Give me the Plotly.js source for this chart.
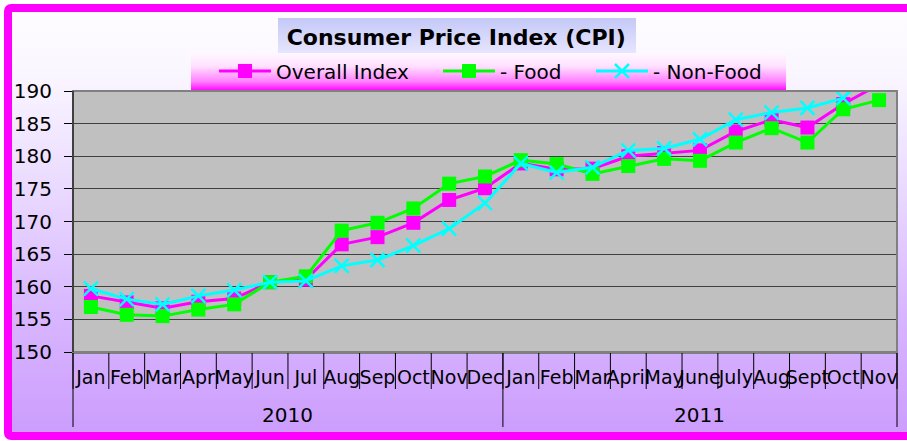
<!DOCTYPE html>
<html>
<head>
<meta charset="utf-8">
<script src="https://cdn.plot.ly/plotly-3.0.1.min.js"></script>
<style>
  html, body { margin:0; padding:0; width:907px; height:441px; overflow:hidden; background:#ffffff; }
  #frame { position:absolute; left:4px; top:4px; width:930px; height:420px; border:8px solid #ff00ff; border-radius:7px;
           background: linear-gradient(to bottom, #fefcff 0%, #faf6ff 15%, #ebdcff 40%, #d9b8ff 70%, #cc9dfd 100%); }
  #titlebox { position:absolute; left:278px; top:18px; width:358px; height:35px;
              background: linear-gradient(to bottom, #c4c8f6 0%, #dcdcfc 70%, #e6e6fe 100%); }
  #legendbox { position:absolute; left:191px; top:53px; width:595px; height:38px;
               background: linear-gradient(to bottom, #fff8ff 0%, #ffe0ff 35%, #ff80ff 75%, #ff00ff 100%); }
  #chart { position:absolute; left:0; top:0; width:907px; height:441px; }
</style>
</head>
<body>
<div id="frame"></div>
<div id="titlebox"></div>
<div id="legendbox"></div>
<div id="chart"></div>
<script>
// ---- data ----
const months2010 = ["Jan","Feb","Mar","Apr","May","Jun","Jul","Aug","Sep","Oct","Nov","Dec"];
const months2011 = ["Jan","Feb","Mar","April","May","June","July","Aug","Sept","Oct","Nov"];
const yearLabels = ["2010","2011"];
const overallIndex = [158.6,157.6,156.7,157.7,158.2,160.7,161.1,166.5,167.6,169.8,173.3,175.1,
                      178.9,178.0,178.1,180.0,180.5,180.9,183.8,185.6,184.4,188.0,191.0];
const foodIndex    = [156.9,155.7,155.5,156.5,157.3,160.7,161.6,168.6,169.8,172.0,175.8,176.9,
                      179.4,178.8,177.3,178.5,179.6,179.3,182.1,184.3,182.1,187.2,188.6];
const nonFoodIndex = [159.7,158.1,157.3,158.6,159.5,160.7,160.9,163.2,164.1,166.3,168.9,172.8,
                      178.9,177.5,178.3,180.9,181.2,182.6,185.6,186.7,187.4,188.9,194.5];

// unique category keys, displayed as month names
const xKeys = months2010.map(m => m + " " + yearLabels[0]).concat(months2011.map(m => m + " " + yearLabels[1]));
const xText = months2010.concat(months2011);
const N = xKeys.length;

const FONT = "DejaVu Sans, Verdana, sans-serif";
const plotH = 441 - 91 - 89;

const traces = [
  { name: "Overall Index", x: xKeys, y: overallIndex, type: "scatter", mode: "lines+markers", legend: "legend",
    line: { color: "#ff00ff", width: 3 },
    marker: { symbol: "square", size: 14, color: "#ff00ff" } },
  { name: "- Food", x: xKeys, y: foodIndex, type: "scatter", mode: "lines+markers", legend: "legend2",
    line: { color: "#00ff00", width: 3 },
    marker: { symbol: "square", size: 14, color: "#00ff00" } },
  { name: "- Non-Food", x: xKeys, y: nonFoodIndex, type: "scatter", mode: "lines+markers", legend: "legend3",
    line: { color: "#00ffff", width: 3 },
    marker: { symbol: "x-thin", size: 14, color: "#00ffff", line: { color: "#00ffff", width: 2.5 } } }
];

function legendAt(px) {
  return { orientation: "h", xref: "container", yref: "container", x: px / 907, xanchor: "left",
           y: 1 - 71 / 441, yanchor: "middle", bgcolor: "rgba(0,0,0,0)", itemwidth: 52,
           font: { family: FONT, size: 20, color: "#000" } };
}

const shapes = [];
// month separators
for (let k = 0; k <= N; k++) {
  shapes.push({ type: "line", xref: "paper", yref: "paper", x0: k / N, x1: k / N, y0: 0, y1: -37 / plotH,
                line: { color: "#000", width: 1 } });
}
// year dividers
[0, months2010.length, N].forEach(k => {
  shapes.push({ type: "line", xref: "paper", yref: "paper", x0: k / N, x1: k / N, y0: 0, y1: -75 / plotH,
                line: { color: "#000", width: 1 } });
});
// plot border
shapes.push({ type: "rect", xref: "paper", yref: "paper", x0: 0, x1: 1, y0: 0, y1: 1,
              line: { color: "#808080", width: 2 }, fillcolor: "rgba(0,0,0,0)", layer: "above" });
// left axis line (black)
shapes.push({ type: "line", xref: "paper", yref: "paper", x0: 0, x1: 0, y0: 0, y1: 1,
              line: { color: "#000", width: 1 }, layer: "above" });

const annotations = [
  { text: yearLabels[0], xref: "x", yref: "paper", x: (months2010.length - 1) / 2, y: -63 / plotH,
    showarrow: false, yanchor: "middle", font: { family: FONT, size: 20, color: "#000" } },
  { text: yearLabels[1], xref: "x", yref: "paper", x: months2010.length + (months2011.length - 1) / 2, y: -63 / plotH,
    showarrow: false, yanchor: "middle", font: { family: FONT, size: 20, color: "#000" } }
];

const layout = {
  width: 907, height: 441,
  margin: { l: 73, r: 10, t: 91, b: 89 },
  paper_bgcolor: "rgba(0,0,0,0)",
  plot_bgcolor: "#c0c0c0",
  font: { family: FONT, size: 19, color: "#000" },
  title: { text: "<b>Consumer Price Index (CPI)</b>", font: { family: FONT, size: 22, color: "#000" },
           x: 0.503, xanchor: "center", y: 1 - 37/441, yanchor: "middle", xref: "container", yref: "container" },
  showlegend: true,
  legend: legendAt(214),
  legend2: legendAt(438),
  legend3: legendAt(591),
  xaxis: {
    type: "category", categoryorder: "array", categoryarray: xKeys,
    range: [-0.5, N - 0.5], autorange: false,
    tickvals: xKeys, ticktext: xText, tickangle: 0,
    showgrid: false, ticks: "", ticklabelstandoff: 7,
    showline: true, linecolor: "#808080", linewidth: 2,
    tickfont: { family: FONT, size: 19, color: "#000" },
    zeroline: false
  },
  yaxis: {
    range: [150, 190], autorange: false, dtick: 5, tick0: 150,
    showgrid: true, gridcolor: "#404040", gridwidth: 1,
    showline: true, linecolor: "#000", linewidth: 1,
    ticks: "outside", ticklen: 8, tickcolor: "#000", ticklabelstandoff: 8,
    tickfont: { family: FONT, size: 20, color: "#000" },
    zeroline: false
  },
  shapes: shapes,
  annotations: annotations
};

Plotly.newPlot("chart", traces, layout, { displayModeBar: false, staticPlot: true });
</script>
</body>
</html>
